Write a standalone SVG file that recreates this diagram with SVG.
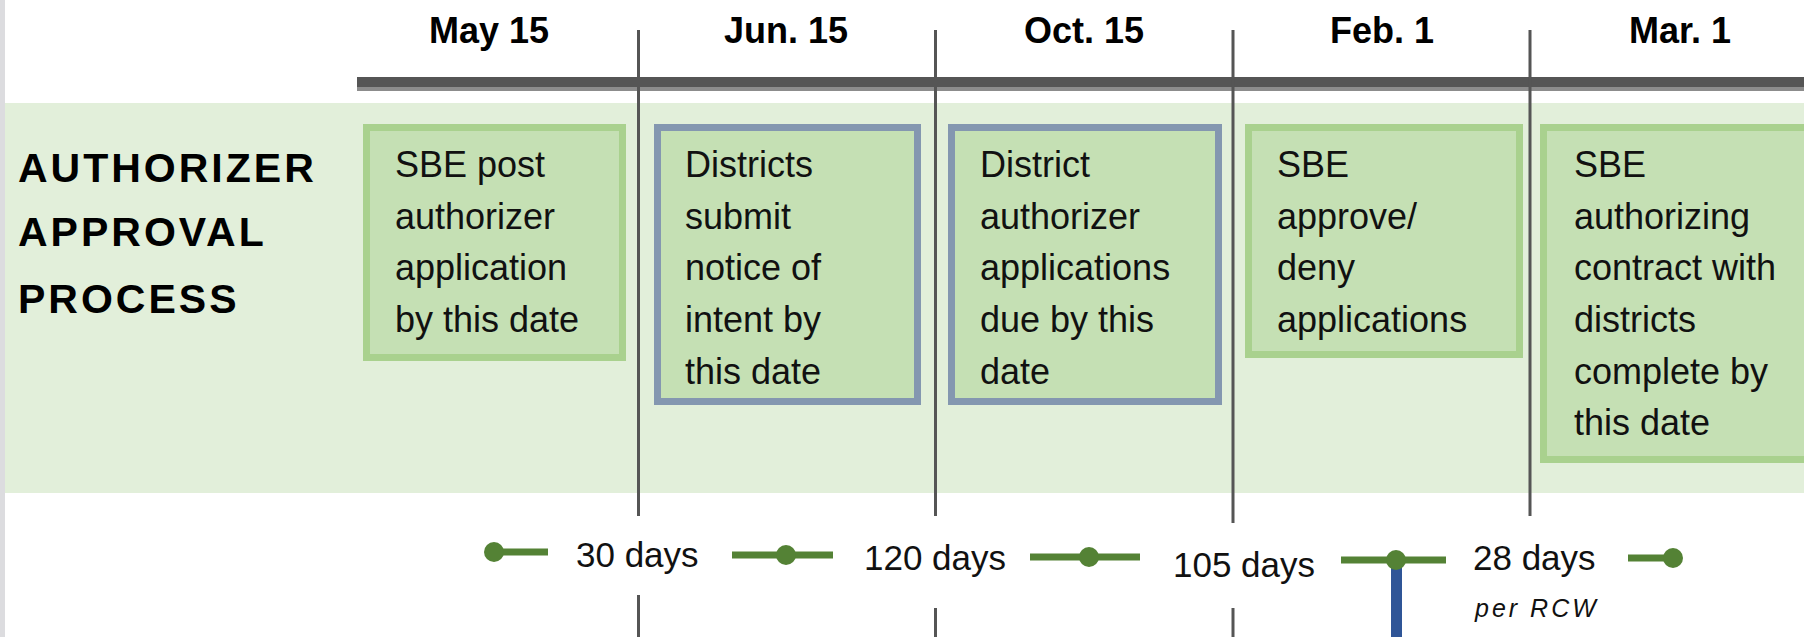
<svg xmlns="http://www.w3.org/2000/svg" width="1804" height="637" viewBox="0 0 1804 637">
  <style>
    .date { font-family: "Liberation Sans", Arial, sans-serif; font-weight: bold; font-size: 36px; fill: #000; text-anchor: middle; }
    .title { font-family: "Liberation Sans", Arial, sans-serif; font-weight: bold; font-size: 41px; letter-spacing: 3px; fill: #000; }
    .box-text { font-family: "Liberation Sans", Arial, sans-serif; font-size: 36px; fill: #111; }
    .days { font-family: "Liberation Sans", Arial, sans-serif; font-size: 35px; fill: #111; }
    .note { font-family: "Liberation Sans", Arial, sans-serif; font-style: italic; font-size: 25px; letter-spacing: 3px; fill: #111; }
    .box-green { fill: #c5e0b4; stroke: #a9d18e; stroke-width: 7; }
    .box-blue { fill: #c5e0b4; stroke: #8497b0; stroke-width: 7; }
    .divider { stroke: #555; stroke-width: 3; }
    .span { stroke: #548235; stroke-width: 7; }
    .dot { fill: #548235; }
  </style>

  <!-- page background and left margin strip -->
  <rect x="0" y="0" width="1804" height="637" fill="#fff"/>
  <rect x="0" y="0" width="5" height="637" fill="#dcdcdf"/>

  <!-- process band -->
  <rect x="5" y="103" width="1799" height="390" fill="#e2efda"/>

  <!-- header bar -->
  <rect x="357" y="77" width="1447" height="10" fill="#555"/>
  <rect x="357" y="87" width="1447" height="4" fill="#8c8c8c"/>

  <!-- date headings -->
  <g id="dates">
    <text class="date" x="489" y="43">May 15</text>
    <text class="date" x="786" y="43">Jun. 15</text>
    <text class="date" x="1084" y="43">Oct. 15</text>
    <text class="date" x="1382" y="43">Feb. 1</text>
    <text class="date" x="1680" y="43">Mar. 1</text>
  </g>

  <!-- row label -->
  <g id="row-label">
    <text class="title" x="18" y="182">AUTHORIZER</text>
    <text class="title" x="18" y="246">APPROVAL</text>
    <text class="title" x="18" y="313">PROCESS</text>
  </g>

  <!-- column dividers -->
  <g id="dividers">
    <line class="divider" x1="638.5" y1="30" x2="638.5" y2="516"/>
    <line class="divider" x1="638.5" y1="595" x2="638.5" y2="637"/>
    <line class="divider" x1="935.5" y1="30" x2="935.5" y2="516"/>
    <line class="divider" x1="935.5" y1="608" x2="935.5" y2="637"/>
    <line class="divider" x1="1233" y1="30" x2="1233" y2="523"/>
    <line class="divider" x1="1233" y1="608" x2="1233" y2="637"/>
    <line class="divider" x1="1530" y1="30" x2="1530" y2="516"/>
  </g>

  <!-- milestone boxes -->
  <g id="box-post">
    <rect class="box-green" x="366.5" y="127.5" width="256" height="230"/>
    <text class="box-text" x="395" y="177">SBE post</text>
    <text class="box-text" x="395" y="228.5">authorizer</text>
    <text class="box-text" x="395" y="280">application</text>
    <text class="box-text" x="395" y="332">by this date</text>
  </g>

  <g id="box-notice">
    <rect class="box-blue" x="657.5" y="127.5" width="260" height="274"/>
    <text class="box-text" x="685" y="177">Districts</text>
    <text class="box-text" x="685" y="228.5">submit</text>
    <text class="box-text" x="685" y="280">notice of</text>
    <text class="box-text" x="685" y="332">intent by</text>
    <text class="box-text" x="685" y="383.5">this date</text>
  </g>

  <g id="box-applications">
    <rect class="box-blue" x="951.5" y="127.5" width="267" height="274"/>
    <text class="box-text" x="980" y="177">District</text>
    <text class="box-text" x="980" y="228.5">authorizer</text>
    <text class="box-text" x="980" y="280">applications</text>
    <text class="box-text" x="980" y="332">due by this</text>
    <text class="box-text" x="980" y="383.5">date</text>
  </g>

  <g id="box-decision">
    <rect class="box-green" x="1248.5" y="127.5" width="271" height="227"/>
    <text class="box-text" x="1277" y="177">SBE</text>
    <text class="box-text" x="1277" y="228.5">approve/</text>
    <text class="box-text" x="1277" y="280">deny</text>
    <text class="box-text" x="1277" y="332">applications</text>
  </g>

  <g id="box-contract">
    <rect class="box-green" x="1543.5" y="127.5" width="290" height="332"/>
    <text class="box-text" x="1574" y="177">SBE</text>
    <text class="box-text" x="1574" y="228.5">authorizing</text>
    <text class="box-text" x="1574" y="280">contract with</text>
    <text class="box-text" x="1574" y="332">districts</text>
    <text class="box-text" x="1574" y="383.5">complete by</text>
    <text class="box-text" x="1574" y="435">this date</text>
  </g>

  <!-- interval connectors -->
  <g id="connectors">
    <line class="span" x1="494" y1="552" x2="548" y2="552"/>
    <circle class="dot" cx="494" cy="552" r="10"/>

    <line class="span" x1="732" y1="555" x2="833" y2="555"/>
    <circle class="dot" cx="786" cy="555" r="10"/>

    <line class="span" x1="1030" y1="557" x2="1140" y2="557"/>
    <circle class="dot" cx="1089" cy="557" r="10"/>

    <line x1="1396.5" y1="560" x2="1396.5" y2="637" stroke="#2f5597" stroke-width="11"/>
    <line class="span" x1="1341" y1="560" x2="1446" y2="560"/>
    <circle class="dot" cx="1396" cy="560" r="10"/>

    <line class="span" x1="1628" y1="558" x2="1672" y2="558"/>
    <circle class="dot" cx="1673" cy="558" r="10"/>
  </g>

  <!-- interval labels -->
  <g id="intervals">
    <text class="days" x="576" y="567">30 days</text>
    <text class="days" x="864" y="570">120 days</text>
    <text class="days" x="1173" y="577">105 days</text>
    <text class="days" x="1473" y="570">28 days</text>
    <text class="note" x="1475" y="617">per RCW</text>
  </g>
</svg>
